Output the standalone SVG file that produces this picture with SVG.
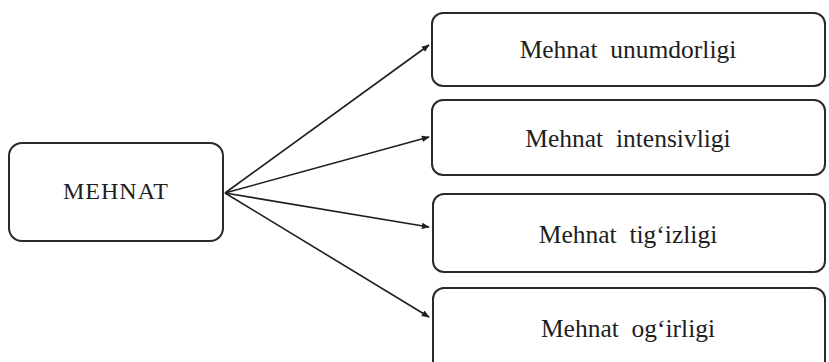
<svg xmlns="http://www.w3.org/2000/svg" width="829" height="362" viewBox="0 0 829 362">
  <defs>
    <marker id="arrow" viewBox="0 0 10 10" refX="9" refY="5" markerWidth="8" markerHeight="8" markerUnits="userSpaceOnUse" orient="auto">
      <path d="M0,1 L10,5 L0,9 Z" fill="#1e1e1e"/>
    </marker>
    <style>
      .box { fill: #ffffff; stroke: #2a2a2a; stroke-width: 2; }
      .label { font-family: "Liberation Serif", "Times New Roman", serif; font-size: 24px; fill: #1e1e1e; text-anchor: middle; }
      .sub { font-size: 25.5px; }
      .link { stroke: #1e1e1e; stroke-width: 1.6; fill: none; marker-end: url(#arrow); }
    </style>
  </defs>
  <rect width="829" height="362" fill="#ffffff"/>

  <g id="connectors">
    <line class="link" x1="225" y1="193" x2="429" y2="45"/>
    <line class="link" x1="225" y1="193" x2="429" y2="137"/>
    <line class="link" x1="225" y1="193" x2="429" y2="227"/>
    <line class="link" x1="225" y1="193" x2="429" y2="317"/>
  </g>

  <g id="mehnat">
    <rect class="box" x="9" y="143" width="214" height="98" rx="13"/>
    <text class="label" x="116" y="199" letter-spacing="1">MEHNAT</text>
  </g>

  <g id="unumdorlik">
    <rect class="box" x="432" y="13" width="393" height="73" rx="11"/>
    <text class="label sub" x="628" y="58" xml:space="preserve">Mehnat  unumdorligi</text>
  </g>

  <g id="intensivlik">
    <rect class="box" x="432" y="100" width="393" height="75" rx="11"/>
    <text class="label sub" x="628" y="147" xml:space="preserve">Mehnat  intensivligi</text>
  </g>

  <g id="tigizlik">
    <rect class="box" x="433" y="194" width="392" height="78" rx="11"/>
    <text class="label sub" x="628" y="243" xml:space="preserve">Mehnat  tig‘izligi</text>
  </g>

  <g id="ogirlik">
    <rect class="box" x="433" y="288" width="392" height="84" rx="11"/>
    <text class="label sub" x="628" y="337" xml:space="preserve">Mehnat  og‘irligi</text>
  </g>
</svg>
